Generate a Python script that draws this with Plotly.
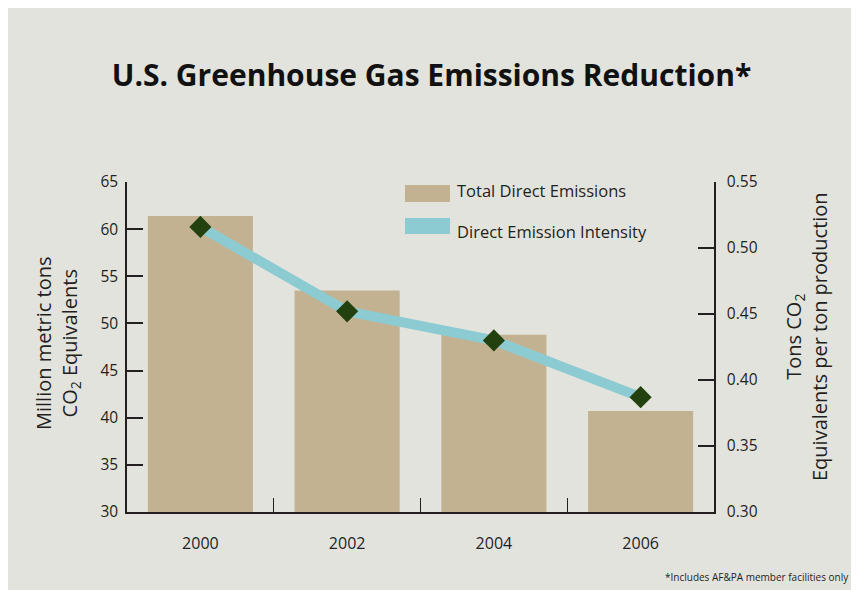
import plotly.graph_objects as go

years = ["2000", "2002", "2004", "2006"]
total_direct = [61.4, 53.5, 48.8, 40.7]
intensity = [0.516, 0.452, 0.430, 0.387]

BG = "#E3E3DE"
BAR = "#C2B292"
LINE = "#8DCBD3"
MARK = "#23400F"
TXT = "#231F20"
FONT = "Open Sans"

# plot area in page pixels (page has an 8px body offset)
PX0, PX1, PY0, PY1 = 127, 714, 182, 512
W = PX1 - PX0
H = PY1 - PY0


def px(x):
    return (x - PX0) / W


def py(y):
    return (PY1 - y) / H


fig = go.Figure()
fig.add_trace(go.Bar(x=years, y=total_direct, name="Total Direct Emissions",
                     marker=dict(color=BAR, line=dict(width=0)), showlegend=False))
fig.add_trace(go.Scatter(x=years, y=intensity, yaxis="y2", mode="lines+markers",
                         name="Direct Emission Intensity",
                         line=dict(color=LINE, width=10),
                         marker=dict(symbol="diamond", size=17, color=MARK, line=dict(width=0)),
                         showlegend=False))

fig.update_layout(
    width=859, height=590,
    paper_bgcolor=BG, plot_bgcolor=BG,
    margin=dict(l=PX0 - 8, r=859 - (PX1 - 8), t=PY0 - 8, b=590 - (PY1 - 8)),
    bargap=0.284,
    font=dict(family=FONT, color=TXT, size=15),
    title=dict(text="<b>U.S. Greenhouse Gas Emissions Reduction*</b>",
               x=(431.5 - 8) / 859, xref="container", y=1 - (75 - 8) / 590, yref="container",
               xanchor="center", yanchor="middle",
               font=dict(family=FONT, size=30, color="#111111")),
    xaxis=dict(type="category", tickson="boundaries", ticks="inside", ticklen=14,
               tickcolor=TXT, tickwidth=1.2, showline=True, linecolor=TXT, linewidth=1.5,
               mirror=False, showgrid=False, ticklabelstandoff=16,
               tickfont=dict(size=16, color=TXT)),
    yaxis=dict(range=[30, 65], dtick=5, ticks="inside", ticklen=16, tickcolor=TXT,
               tickwidth=1.5, showline=True, linecolor=TXT, linewidth=1.5,
               showgrid=False, zeroline=False, ticklabelstandoff=4,
               tickfont=dict(size=15.5, color=TXT)),
    yaxis2=dict(range=[0.30, 0.55], dtick=0.05, tickformat=".2f", overlaying="y",
                side="right", ticks="inside", ticklen=16, tickcolor=TXT, tickwidth=1.5,
                showline=True, linecolor=TXT, linewidth=1.5, showgrid=False,
                zeroline=False, ticklabelstandoff=8,
                tickfont=dict(size=15.5, color=TXT)),
)

# legend (drawn manually to match rectangular swatches)
shapes = [
    dict(type="rect", xref="paper", yref="paper",
         x0=px(405), x1=px(450), y0=py(202), y1=py(185),
         fillcolor=BAR, line=dict(width=0)),
    dict(type="rect", xref="paper", yref="paper",
         x0=px(405), x1=px(450), y0=py(234), y1=py(218),
         fillcolor=LINE, line=dict(width=0)),
]
annotations = [
    dict(text="Total Direct Emissions", xref="paper", yref="paper",
         x=px(455), y=py(191), xanchor="left", yanchor="middle",
         showarrow=False, font=dict(size=16.5, color=TXT)),
    dict(text="Direct Emission Intensity", xref="paper", yref="paper",
         x=px(455), y=py(231), xanchor="left", yanchor="middle",
         showarrow=False, font=dict(size=16.5, color=TXT)),
    dict(text="Million metric tons<br>CO<sub>2</sub> Equivalents", xref="paper", yref="paper",
         x=px(57), y=py(343), xanchor="center", yanchor="middle",
         textangle=-90, showarrow=False, font=dict(size=20, color=TXT)),
    dict(text="Tons CO<sub>2</sub><br>Equivalents per ton production", xref="paper", yref="paper",
         x=px(806), y=py(336), xanchor="center", yanchor="middle",
         textangle=-90, showarrow=False, font=dict(size=20, color=TXT)),
    dict(text="*Includes AF&amp;PA member facilities only", xref="paper", yref="paper",
         x=px(851), y=py(577), xanchor="right", yanchor="middle",
         showarrow=False, font=dict(size=10, color=TXT)),
]
fig.update_layout(shapes=shapes, annotations=annotations)

fig.write_html("out.html")
